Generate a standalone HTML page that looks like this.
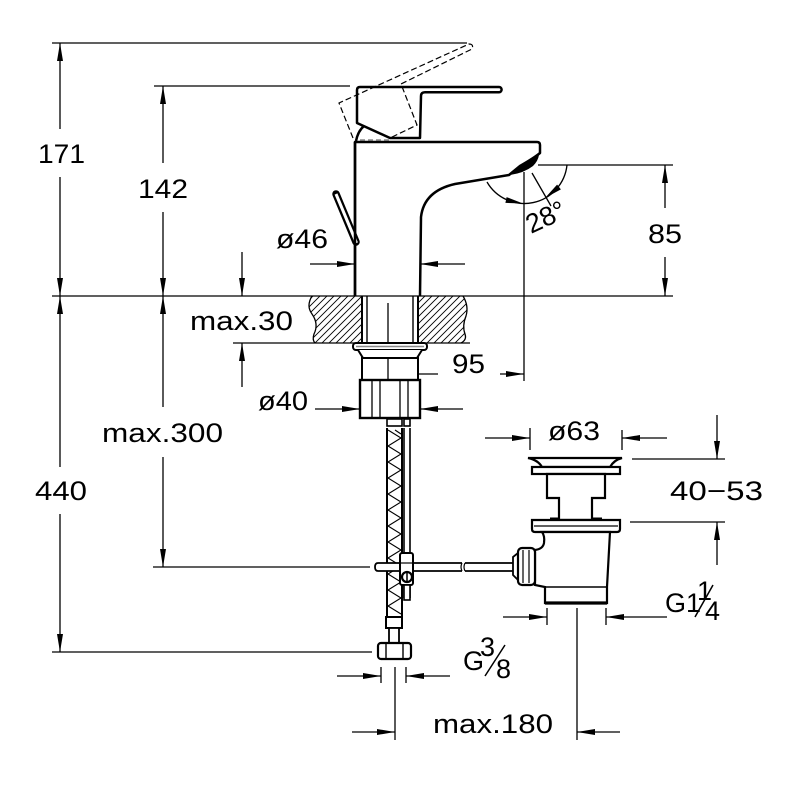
<!DOCTYPE html>
<html><head><meta charset="utf-8"><style>
html,body{margin:0;padding:0;background:#fff;}
svg{display:block;}
text{font-family:"Liberation Sans",sans-serif;font-size:27px;fill:#000;}
</style></head><body>
<svg width="800" height="800" viewBox="0 0 800 800" xmlns="http://www.w3.org/2000/svg">
<defs>
<marker id="a" viewBox="0 0 18 6" refX="18" refY="3" markerWidth="18" markerHeight="6" orient="auto" markerUnits="userSpaceOnUse"><path d="M0,0 L18,3 L0,6 Z" fill="#000"/></marker>
<pattern id="h" patternUnits="userSpaceOnUse" width="7" height="7"><path d="M-1,1 L1,-1 M0,7 L7,0 M6,8 L8,6" stroke="#000" stroke-width="0.9"/></pattern>
</defs>
<rect width="800" height="800" fill="#fff"/>

<!-- extension lines -->
<g stroke="#000" stroke-width="1.3" fill="none">
<line x1="52" y1="43" x2="467" y2="43"/>
<line x1="154" y1="86" x2="350" y2="86"/>
<line x1="52" y1="296" x2="673" y2="296"/>
<line x1="538" y1="165" x2="673" y2="165"/>
<line x1="233" y1="343" x2="362" y2="343"/>
<line x1="153" y1="567" x2="370" y2="567"/>
<line x1="52" y1="652" x2="372" y2="652"/>
<line x1="524" y1="172" x2="524" y2="381"/>
<line x1="388" y1="303" x2="388" y2="380"/>
<line x1="530" y1="428" x2="530" y2="450"/>
<line x1="622" y1="430" x2="622" y2="450"/>
<line x1="632" y1="459" x2="725" y2="459"/>
<line x1="630" y1="522" x2="725" y2="522"/>
<line x1="547" y1="608" x2="547" y2="625"/>
<line x1="606" y1="608" x2="606" y2="625"/>
<line x1="577" y1="608" x2="577" y2="740"/>
<line x1="395" y1="667" x2="395" y2="740"/>
<line x1="381" y1="667" x2="381" y2="683"/>
<line x1="406" y1="667" x2="406" y2="683"/>
<line x1="532" y1="173" x2="551" y2="206"/>
<path d="M487,182 A43,43 0 0 0 567,165"/>
</g>

<!-- dimension arrows -->
<g stroke="#000" stroke-width="1.3" fill="none" marker-end="url(#a)">
<line x1="60" y1="129" x2="60" y2="43"/>
<line x1="60" y1="177" x2="60" y2="296"/>
<line x1="60" y1="467" x2="60" y2="296"/>
<line x1="60" y1="514" x2="60" y2="652"/>
<line x1="163" y1="163" x2="163" y2="86"/>
<line x1="163" y1="212" x2="163" y2="296"/>
<line x1="163" y1="407" x2="163" y2="296"/>
<line x1="163" y1="457" x2="163" y2="567"/>
<line x1="242" y1="252" x2="242" y2="296"/>
<line x1="242" y1="387" x2="242" y2="343"/>
<line x1="310" y1="264" x2="355" y2="264"/>
<line x1="465" y1="264" x2="420" y2="264"/>
<line x1="665" y1="208" x2="665" y2="165"/>
<line x1="665" y1="257" x2="665" y2="296"/>
<line x1="438" y1="374" x2="388" y2="374"/>
<line x1="500" y1="374" x2="524" y2="374"/>
<line x1="315" y1="409" x2="360" y2="409"/>
<line x1="463" y1="409" x2="420" y2="409"/>
<line x1="485" y1="438" x2="530" y2="438"/>
<line x1="667" y1="438" x2="622" y2="438"/>
<line x1="717" y1="415" x2="717" y2="459"/>
<line x1="717" y1="565" x2="717" y2="522"/>
<line x1="503" y1="617" x2="547" y2="617"/>
<line x1="667" y1="617" x2="606" y2="617"/>
<line x1="337" y1="676" x2="381" y2="676"/>
<line x1="450" y1="676" x2="406" y2="676"/>
<line x1="352" y1="732" x2="395" y2="732"/>
<line x1="620" y1="732" x2="577" y2="732"/>
</g>
<polygon points="523,203.5 506.6,197.1 505.4,202.9" fill="#000"/>
<polygon points="545,198 560.9,189.4 557.1,184.6" fill="#000"/>

<!-- counter hatch -->
<path d="M362,296 L312,296 Q306,306 312,314 Q319,324 314,334 Q312,340 315,343 L362,343 Z" fill="url(#h)" stroke="none"/>
<path d="M419,296 L463,296 Q469,306 466,316 Q462,326 465,334 Q467,340 461,343 L419,343 Z" fill="url(#h)" stroke="none"/>
<g stroke="#000" stroke-width="1.3" fill="none">
<path d="M312,296 Q306,306 312,314 Q319,324 314,334 Q312,340 315,343"/>
<path d="M463,296 Q469,306 466,316 Q462,326 465,334 Q467,340 461,343"/>
<line x1="419" y1="343" x2="470" y2="343"/>
</g>

<!-- shank -->
<g stroke="#000" fill="none">
<line x1="362" y1="296" x2="362" y2="343" stroke-width="2"/>
<line x1="367" y1="296" x2="367" y2="343" stroke-width="1.4"/>
<line x1="413" y1="296" x2="413" y2="343" stroke-width="1.4"/>
<line x1="418" y1="296" x2="418" y2="343" stroke-width="2"/>
<rect x="353" y="343" width="74" height="7" rx="3" fill="#fff" stroke-width="2"/>
<line x1="356" y1="346.5" x2="424" y2="346.5" stroke="#888" stroke-width="1.5"/>
<path d="M358,350 L363,358 L417,358 L422,350" fill="#fff" stroke-width="2"/>
<rect x="362" y="358" width="56" height="22" fill="#fff" stroke-width="2"/>
<rect x="360" y="380" width="60" height="38" fill="#fff" stroke-width="2.4"/>
<line x1="372" y1="380" x2="372" y2="418" stroke-width="1.3"/>
<line x1="380" y1="380" x2="380" y2="418" stroke-width="1.3"/>
<line x1="400" y1="380" x2="400" y2="418" stroke-width="1.3"/>
<line x1="408" y1="380" x2="408" y2="418" stroke-width="1.3"/>
<line x1="388" y1="358" x2="388" y2="380" stroke-width="1.3"/>
</g>

<!-- hoses -->
<g stroke="#000" fill="none">
<rect x="387" y="419" width="15" height="7" stroke-width="1.6"/>
<rect x="404" y="419" width="6" height="7" stroke-width="1.6"/>
<line x1="387" y1="428" x2="387" y2="617" stroke-width="2"/>
<line x1="402" y1="428" x2="402" y2="617" stroke-width="2"/>
<polyline stroke-width="1.1" points="388,430 401,438 388,446 401,454 388,462 401,470 388,478 401,486 388,494 401,502 388,510 401,518 388,526 401,534 388,542 401,550 388,558 401,566 388,574 401,582 388,590 401,598 388,606 401,614"/>
<polyline stroke-width="1.1" points="395,430 401,434 M388,442" />
<line x1="404" y1="428" x2="404" y2="598" stroke-width="1.6"/>
<line x1="410" y1="428" x2="410" y2="598" stroke-width="1.6"/>
<rect x="386" y="617" width="16" height="11" fill="#fff" stroke-width="2"/>
<rect x="389" y="628" width="10" height="15" fill="#fff" stroke-width="1.8"/>
<rect x="378" y="643" width="33" height="16" rx="3" fill="#fff" stroke-width="2.2"/>
<line x1="386" y1="644" x2="386" y2="658" stroke-width="1.4"/>
<line x1="403" y1="644" x2="403" y2="658" stroke-width="1.4"/>
</g>

<!-- cross rod and clamp -->
<g stroke="#000" fill="#fff">
<path d="M462,563 L378,563 Q375,563 375,567 Q375,571 378,571 L462,571" stroke-width="1.8"/>
<path d="M465,563 L513,563 M465,571 L513,571" stroke-width="1.8" fill="none"/>
<path d="M462,563 Q460,567 462,571 M465,563 Q463,567 465,571" stroke-width="1.2" fill="none"/>
<rect x="400" y="553" width="13" height="32" rx="2" stroke-width="2"/>
<line x1="400" y1="563" x2="413" y2="563" stroke-width="1.2"/>
<circle cx="407" cy="577" r="5" stroke-width="2.2"/>
<line x1="407" y1="572" x2="407" y2="582" stroke-width="1.5"/>
<rect x="404" y="585" width="6" height="15" stroke-width="1.6"/>
</g>

<!-- drain -->
<g stroke="#000" stroke-width="2.2" fill="#fff">
<path d="M528,458 L622,458 Q614,460 610,467 L542,467 Q538,460 528,458 Z"/>
<rect x="532" y="467" width="88" height="7"/>
<path d="M547,474 L547,498 L559,498 L559,520 L592,520 L592,498 L605,498 L605,474 Z"/>
<line x1="550" y1="519" x2="560" y2="519" stroke-width="3"/>
<line x1="592" y1="519" x2="602" y2="519" stroke-width="3"/>
<path d="M532,520 L620,520 L620,529 Q620,532 617,532 L535,532 Q532,532 532,529 Z"/>
<line x1="534" y1="526" x2="618" y2="526" stroke-width="1.2"/>
<path d="M542,532 Q545,536 544,543 Q543,549 535,550 L535,585 Q540,586 545,587 L545,603 L607,603 L607,587 L610,532 Z"/>
<line x1="545" y1="587" x2="607" y2="587" stroke-width="1.6"/>
<line x1="545" y1="603" x2="607" y2="603" stroke-width="3.2"/>
<path d="M513,557 L518,553 L518,580 L513,575 Z" stroke-width="1.8"/>
<rect x="518" y="548" width="17" height="37" rx="4"/>
<line x1="523" y1="550" x2="523" y2="583" stroke-width="1.2"/>
<line x1="529" y1="550" x2="529" y2="583" stroke-width="1.2"/>
</g>

<!-- dashed lever (alternate position) -->
<path d="M353,138 L339,103 L469,44 Q474,44 472,49 L401,84 L417,125 L390,138" fill="none" stroke="#000" stroke-width="1.2" stroke-dasharray="6,3"/>
<line x1="360" y1="140" x2="390" y2="140" stroke="#888" stroke-width="1.5" stroke-dasharray="5,3"/>

<!-- faucet body -->
<g stroke="#000" stroke-width="2.5" fill="none" stroke-linejoin="round">
<path d="M355,296 L355,142 L537,142 Q540,142 540,145 L540,153 Q534,158 520,166 L509,175 L455,184 Q424,191 421,217 L420,296"/>
<path d="M357,123 L357,90 Q357,87 360,87 L499,87 A2.6,2.6 0 0 1 499,92.2 L425,92.2 Q421,92.2 421,96 L420,138 L390,138 Z"/>
<path d="M356,141 Q358,131 364,126"/>
<line x1="336" y1="194" x2="356" y2="242" stroke-width="7.5" stroke-linecap="round"/>
<line x1="336" y1="194" x2="356.5" y2="243" stroke="#fff" stroke-width="3"/>
</g>
<path d="M539,155 Q531,159 520,166 L510,175 Q524,173 533,166 Q538,161 539,155 Z" fill="#000"/>
<line x1="355" y1="142" x2="355" y2="296" stroke="#000" stroke-width="2.5"/>

<!-- texts -->
<text x="38" y="163" textLength="47" lengthAdjust="spacingAndGlyphs">171</text>
<text x="138" y="198" textLength="50" lengthAdjust="spacingAndGlyphs">142</text>
<text x="276" y="248" textLength="52" lengthAdjust="spacingAndGlyphs">ø46</text>
<text x="648" y="243" textLength="34" lengthAdjust="spacingAndGlyphs">85</text>
<text x="0" y="0" font-size="24" transform="translate(531,234) rotate(-25)">28°</text>
<text x="190" y="330" textLength="103" lengthAdjust="spacingAndGlyphs">max.30</text>
<text x="452" y="373" textLength="33" lengthAdjust="spacingAndGlyphs">95</text>
<text x="258" y="410" textLength="50" lengthAdjust="spacingAndGlyphs">ø40</text>
<text x="102" y="442" textLength="121" lengthAdjust="spacingAndGlyphs">max.300</text>
<text x="35" y="500" textLength="52" lengthAdjust="spacingAndGlyphs">440</text>
<text x="548" y="440" textLength="52" lengthAdjust="spacingAndGlyphs">ø63</text>
<text x="670" y="500" textLength="93" lengthAdjust="spacingAndGlyphs">40−53</text>
<text x="665" y="612" font-size="25">G1</text>
<text x="697" y="600" font-size="17">1</text>
<line x1="695" y1="617" x2="713" y2="585" stroke="#000" stroke-width="1.5"/>
<text x="705" y="620" font-size="22">4</text>
<text x="463" y="670" font-size="25">G</text>
<text x="480" y="656" font-size="18">3</text>
<line x1="485" y1="676" x2="505" y2="645" stroke="#000" stroke-width="1.5"/>
<text x="496" y="678" font-size="20">8</text>
<text x="433" y="733" textLength="120" lengthAdjust="spacingAndGlyphs">max.180</text>
</svg>
</body></html>
